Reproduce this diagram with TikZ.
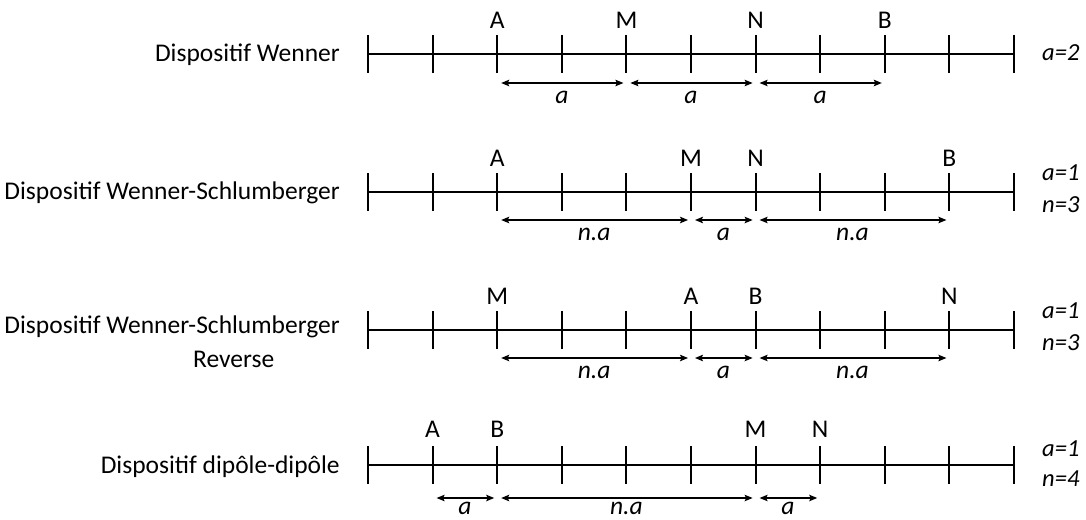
\documentclass[tikz,border=0pt]{standalone}
\usepackage{fontspec}
\setmainfont{Carlito}
\usetikzlibrary{arrows.meta,calc}
\begin{document}
\begin{tikzpicture}[x=1pt,y=-1pt,
  axisline/.style={line width=1.8pt},
  tickline/.style={line width=2pt},
  dimarrow/.style={line width=1.2pt,{Stealth[length=8pt,width=6.5pt,inset=1.5pt]}-{Stealth[length=8pt,width=6.5pt,inset=1.5pt]},shorten <=4pt,shorten >=3pt},
  txt/.style={font=\fontsize{25.5}{30}\selectfont,inner sep=0pt},
  elec/.style={txt,anchor=base},
  dimlbl/.style={txt,font=\fontsize{25.5}{30}\selectfont\itshape,anchor=base},
  param/.style={txt,font=\fontsize{24.5}{30}\selectfont\itshape,anchor=base west},
  title/.style={txt,anchor=base east}
]
\useasboundingbox (0,0) rectangle (1086,519);
% rows: index / line y / electrode baseline / arrow y / arrow label baseline
\foreach \r/\Y/\E/\D/\L in {1/54/29/83/103, 2/192/166/220/240, 3/330/304/358/378, 4/465/437/498/514}{
  \foreach \i in {0,...,10}{
    \coordinate (r\r t\i) at ({368+64.6*\i},\Y);
    \coordinate (r\r e\i) at ({368+64.6*\i},\E);
    \coordinate (r\r d\i) at ({368+64.6*\i},\D);
    \coordinate (r\r l\i) at ({368+64.6*\i},\L);
    \draw[tickline] ($(r\r t\i)+(0,-19)$) -- ($(r\r t\i)+(0,19)$);
  }
  \draw[axisline] (r\r t0) -- (r\r t10);
}
% Row 1: Wenner
\node[title] (t1) at (340,62) {Dispositif Wenner};
\node[elec] (r1A) at (r1e2) {A};
\node[elec] (r1M) at (r1e4) {M};
\node[elec] (r1N) at (r1e6) {N};
\node[elec] (r1B) at (r1e8) {B};
\draw[dimarrow] (r1d2) -- (r1d4);
\draw[dimarrow] (r1d4) -- (r1d6);
\draw[dimarrow] (r1d6) -- (r1d8);
\node[dimlbl] (r1x1) at ($(r1l2)!0.5!(r1l4)$) {a};
\node[dimlbl] (r1x2) at ($(r1l4)!0.5!(r1l6)$) {a};
\node[dimlbl] (r1x3) at ($(r1l6)!0.5!(r1l8)$) {a};
\node[param] (p1a) at (1042,60) {a=2};
% Row 2: Wenner-Schlumberger
\node[title] (t2) at (340,199) {Dispositif Wenner-Schlumberger};
\node[elec] (r2A) at (r2e2) {A};
\node[elec] (r2M) at (r2e5) {M};
\node[elec] (r2N) at (r2e6) {N};
\node[elec] (r2B) at (r2e9) {B};
\draw[dimarrow] (r2d2) -- (r2d5);
\draw[dimarrow] (r2d5) -- (r2d6);
\draw[dimarrow] (r2d6) -- (r2d9);
\node[dimlbl] (r2x1) at ($(r2l2)!0.5!(r2l5)$) {n.a};
\node[dimlbl] (r2x2) at ($(r2l5)!0.5!(r2l6)$) {a};
\node[dimlbl] (r2x3) at ($(r2l6)!0.5!(r2l9)$) {n.a};
\node[param] (p2a) at (1042,180) {a=1};
\node[param] (p2n) at (1042,212) {n=3};
% Row 3: Wenner-Schlumberger Reverse
\node[title] (t3) at (340,333) {Dispositif Wenner-Schlumberger};
\node[txt,anchor=base west] (t3b) at (193,367) {Reverse};
\node[elec] (r3M) at (r3e2) {M};
\node[elec] (r3A) at (r3e5) {A};
\node[elec] (r3B) at (r3e6) {B};
\node[elec] (r3N) at (r3e9) {N};
\draw[dimarrow] (r3d2) -- (r3d5);
\draw[dimarrow] (r3d5) -- (r3d6);
\draw[dimarrow] (r3d6) -- (r3d9);
\node[dimlbl] (r3x1) at ($(r3l2)!0.5!(r3l5)$) {n.a};
\node[dimlbl] (r3x2) at ($(r3l5)!0.5!(r3l6)$) {a};
\node[dimlbl] (r3x3) at ($(r3l6)!0.5!(r3l9)$) {n.a};
\node[param] (p3a) at (1042,318) {a=1};
\node[param] (p3n) at (1042,350) {n=3};
% Row 4: dipole-dipole
\node[title] (t4) at (340,473) {Dispositif dipôle-dipôle};
\node[elec] (r4A) at (r4e1) {A};
\node[elec] (r4B) at (r4e2) {B};
\node[elec] (r4M) at (r4e6) {M};
\node[elec] (r4N) at (r4e7) {N};
\draw[dimarrow] (r4d1) -- (r4d2);
\draw[dimarrow] (r4d2) -- (r4d6);
\draw[dimarrow] (r4d6) -- (r4d7);
\node[dimlbl] (r4x1) at ($(r4l1)!0.5!(r4l2)$) {a};
\node[dimlbl] (r4x2) at ($(r4l2)!0.5!(r4l6)$) {n.a};
\node[dimlbl] (r4x3) at ($(r4l6)!0.5!(r4l7)$) {a};
\node[param] (p4a) at (1042,456) {a=1};
\node[param] (p4n) at (1042,486) {n=4};
\end{tikzpicture}
\end{document}
